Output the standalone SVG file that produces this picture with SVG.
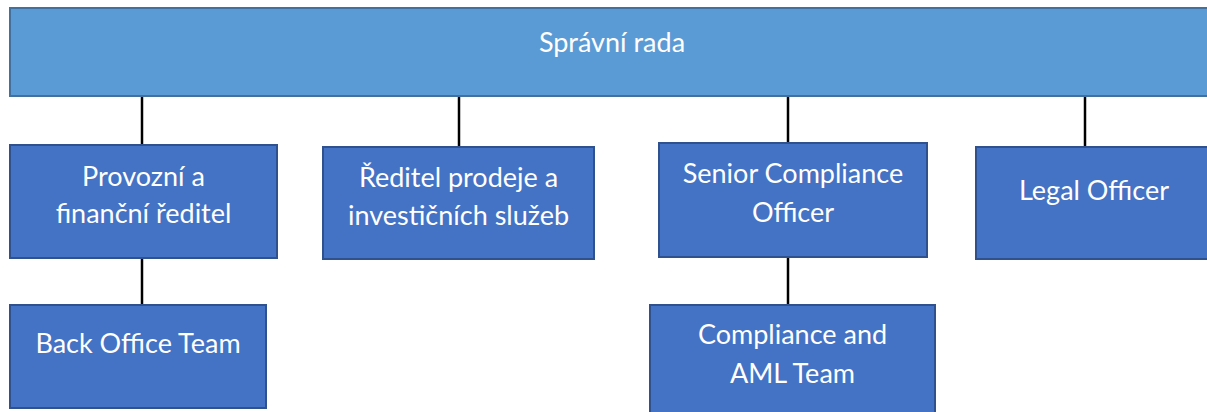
<svg xmlns="http://www.w3.org/2000/svg" width="1207" height="412" viewBox="0 0 1207 412">
<style>
.top{fill:#5B9BD5;stroke:#41719C;stroke-width:2}
.box{fill:#4472C4;stroke:#2F528F;stroke-width:2}
.lbl{font-family:Lato,"Open Sans","Liberation Sans",sans-serif;font-size:27px;fill:#ffffff;text-anchor:middle}
.conn line{stroke:#000000;stroke-width:2.5}
</style>
<rect x="0" y="0" width="1207" height="412" fill="#ffffff"/>
<g id="connectors" class="conn">
<line x1="142" y1="96" x2="142" y2="145"/>
<line x1="459" y1="96" x2="459" y2="147"/>
<line x1="788" y1="96" x2="788" y2="143"/>
<line x1="1085" y1="96" x2="1085" y2="147"/>
<line x1="142" y1="258" x2="142" y2="305"/>
<line x1="788" y1="257" x2="788" y2="305"/>
</g>
<g id="spravni-rada">
<rect class="top" x="10" y="8" width="1205" height="88"/>
<text class="lbl" x="612" y="52">Správní rada</text>
</g>
<g id="provozni">
<rect class="box" x="10" y="145" width="267" height="113"/>
<text class="lbl" x="143.5" y="186">Provozní a</text>
<text class="lbl" x="143.5" y="223">finanční ředitel</text>
</g>
<g id="reditel-prodeje">
<rect class="box" x="323" y="147" width="271" height="112"/>
<text class="lbl" x="458.5" y="187">Ředitel prodeje a</text>
<text class="lbl" x="458.5" y="225">investičních služeb</text>
</g>
<g id="senior-compliance">
<rect class="box" x="659" y="143" width="268" height="114"/>
<text class="lbl" x="793" y="183">Senior Compliance</text>
<text class="lbl" x="793" y="222">Officer</text>
</g>
<g id="legal-officer">
<rect class="box" x="976" y="147" width="238" height="112"/>
<text class="lbl" x="1094" y="200">Legal Officer</text>
</g>
<g id="back-office">
<rect class="box" x="10" y="305" width="256" height="103"/>
<text class="lbl" x="138" y="353">Back Office Team</text>
</g>
<g id="compliance-aml">
<rect class="box" x="650" y="305" width="285" height="115"/>
<text class="lbl" x="792.5" y="344">Compliance and</text>
<text class="lbl" x="792.5" y="383">AML Team</text>
</g>
</svg>
